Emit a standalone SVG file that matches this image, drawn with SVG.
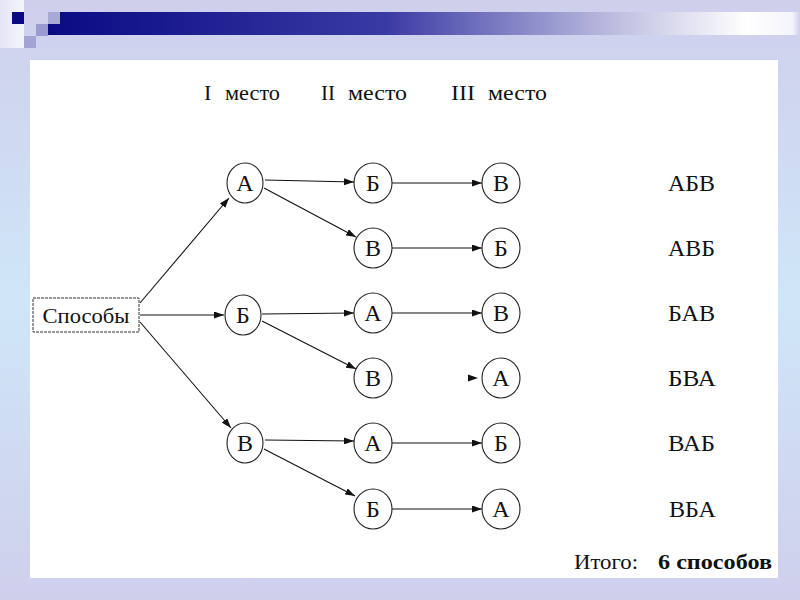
<svg xmlns="http://www.w3.org/2000/svg" width="800" height="600" viewBox="0 0 800 600">
<defs>
<linearGradient id="bg" x1="0" y1="0" x2="0" y2="1">
<stop offset="0" stop-color="#cfcfec"/>
<stop offset="0.5" stop-color="#cfe6f8"/>
<stop offset="1" stop-color="#cfcfec"/>
</linearGradient>
<linearGradient id="bar" x1="0" y1="0" x2="1" y2="0">
<stop offset="0" stop-color="#0a0a84"/>
<stop offset="0.45" stop-color="#3a3aa4"/>
<stop offset="0.75" stop-color="#bcbcdf"/>
<stop offset="0.93" stop-color="#ffffff"/>
<stop offset="0.99" stop-color="#f4f4fb"/>
<stop offset="1" stop-color="#cfcfec"/>
</linearGradient>
<linearGradient id="col" x1="0" y1="0" x2="1" y2="0">
<stop offset="0" stop-color="#e4e4f4"/>
<stop offset="1" stop-color="#f6f6fc"/>
</linearGradient>
<marker id="ah" markerWidth="10" markerHeight="7" refX="10" refY="3.5" orient="auto" markerUnits="userSpaceOnUse">
<path d="M0,0 L10,3.5 L0,7 Z" fill="#111"/>
</marker>
</defs>
<style>
text{font-family:"Liberation Serif","DejaVu Serif","Times New Roman",serif;fill:#111}
.node ellipse{fill:#fff;stroke:#222;stroke-width:1.1}
.node text{font-size:24px;text-anchor:middle}
.conn line{stroke:#111;stroke-width:1.1;marker-end:url(#ah)}
.res{font-size:23px}
.hdr{font-size:22px}
</style>
<rect x="0" y="0" width="800" height="600" fill="url(#bg)"/>
<rect x="0" y="0" width="24" height="48" fill="url(#col)"/>
<rect x="48" y="12" width="752" height="23" fill="url(#bar)"/>
<rect x="12" y="12" width="12" height="12" fill="#0a0a80"/>
<rect x="48" y="12" width="12" height="12" fill="#a9a9d8"/>
<rect x="36" y="24" width="12" height="12" fill="#9a9ad0"/>
<rect x="24" y="36" width="12" height="12" fill="#a4a4d4"/>
<rect x="30" y="60" width="748" height="518" fill="#fff"/>

<text class="hdr" x="204" y="100">I</text>
<text class="hdr" x="225" y="100" textLength="55" lengthAdjust="spacingAndGlyphs">место</text>
<text class="hdr" x="321" y="100" textLength="14" lengthAdjust="spacingAndGlyphs">II</text>
<text class="hdr" x="348" y="100" textLength="59" lengthAdjust="spacingAndGlyphs">место</text>
<text class="hdr" x="451" y="100" textLength="24" lengthAdjust="spacingAndGlyphs">III</text>
<text class="hdr" x="488" y="100" textLength="59" lengthAdjust="spacingAndGlyphs">место</text>

<g class="conn">
<line x1="140" y1="303" x2="229" y2="198"/>
<line x1="140" y1="315" x2="224" y2="315"/>
<line x1="140" y1="322" x2="231" y2="428"/>
<line x1="265" y1="180" x2="354" y2="182"/>
<line x1="264" y1="188" x2="356" y2="237"/>
<line x1="262" y1="314" x2="354" y2="313"/>
<line x1="262" y1="321" x2="356" y2="369"/>
<line x1="265" y1="440" x2="354" y2="441"/>
<line x1="264" y1="449" x2="355" y2="496"/>
<line x1="392" y1="183" x2="482" y2="183"/>
<line x1="392" y1="248" x2="482" y2="248"/>
<line x1="392" y1="313" x2="482" y2="313"/>
<line x1="392" y1="443" x2="482" y2="443"/>
<line x1="392" y1="509" x2="482" y2="509"/>
<polygon points="468,374.5 478,378 468,381.5" fill="#111"/>
</g>

<g id="n-root" class="node">
<rect x="33" y="298" width="106" height="34" fill="#fff" stroke="#333" stroke-width="1" stroke-dasharray="3,1"/>
<text x="86" y="323" style="font-size:22px" textLength="87" lengthAdjust="spacingAndGlyphs">Способы</text>
</g>
<g id="n1a" class="node"><ellipse cx="245" cy="183" rx="18" ry="20"/><text x="245" y="191">А</text></g>
<g id="n1b" class="node"><ellipse cx="243" cy="315" rx="18" ry="20"/><text x="243" y="323">Б</text></g>
<g id="n1c" class="node"><ellipse cx="245" cy="443" rx="18" ry="20"/><text x="245" y="451">В</text></g>

<g id="n2-1" class="node"><ellipse cx="373" cy="183" rx="19" ry="20"/><text x="373" y="191">Б</text></g>
<g id="n2-2" class="node"><ellipse cx="373" cy="248" rx="19" ry="20"/><text x="373" y="256">В</text></g>
<g id="n2-3" class="node"><ellipse cx="373" cy="313" rx="19" ry="20"/><text x="373" y="321">А</text></g>
<g id="n2-4" class="node"><ellipse cx="373" cy="378" rx="19" ry="20"/><text x="373" y="386">В</text></g>
<g id="n2-5" class="node"><ellipse cx="373" cy="443" rx="19" ry="20"/><text x="373" y="451">А</text></g>
<g id="n2-6" class="node"><ellipse cx="373" cy="509" rx="19" ry="20"/><text x="373" y="517">Б</text></g>

<g id="n3-1" class="node"><ellipse cx="501" cy="183" rx="19" ry="20"/><text x="501" y="191">В</text></g>
<g id="n3-2" class="node"><ellipse cx="501" cy="248" rx="19" ry="20"/><text x="501" y="256">Б</text></g>
<g id="n3-3" class="node"><ellipse cx="501" cy="313" rx="19" ry="20"/><text x="501" y="321">В</text></g>
<g id="n3-4" class="node"><ellipse cx="501" cy="378" rx="19" ry="20"/><text x="501" y="386">А</text></g>
<g id="n3-5" class="node"><ellipse cx="501" cy="443" rx="19" ry="20"/><text x="501" y="451">Б</text></g>
<g id="n3-6" class="node"><ellipse cx="501" cy="509" rx="19" ry="20"/><text x="501" y="517">А</text></g>

<text class="res" x="668" y="191" textLength="47" lengthAdjust="spacingAndGlyphs">АБВ</text>
<text class="res" x="668" y="256" textLength="47" lengthAdjust="spacingAndGlyphs">АВБ</text>
<text class="res" x="668" y="321" textLength="47" lengthAdjust="spacingAndGlyphs">БАВ</text>
<text class="res" x="668" y="386" textLength="48" lengthAdjust="spacingAndGlyphs">БВА</text>
<text class="res" x="668" y="451" textLength="47" lengthAdjust="spacingAndGlyphs">ВАБ</text>
<text class="res" x="669" y="517" textLength="47" lengthAdjust="spacingAndGlyphs">ВБА</text>

<text x="574" y="569" style="font-size:21px" textLength="64" lengthAdjust="spacingAndGlyphs">Итого:</text>
<text x="658" y="569" style="font-size:21px;font-weight:bold" textLength="114" lengthAdjust="spacingAndGlyphs">6 способов</text>
</svg>
